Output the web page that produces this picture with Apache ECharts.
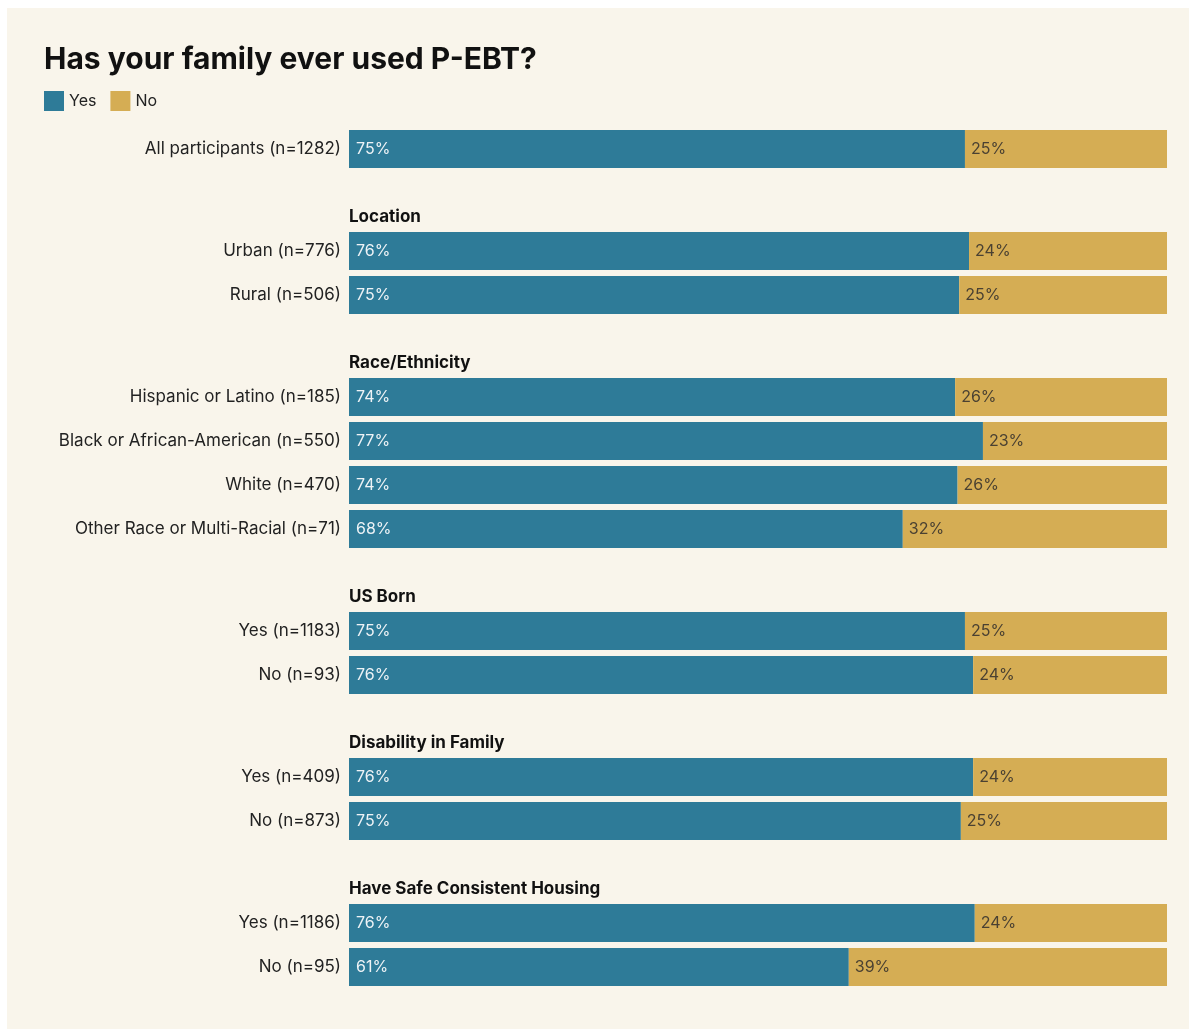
<!DOCTYPE html>
<html>
<head>
<meta charset="utf-8">
<script src="https://cdn.jsdelivr.net/npm/echarts@6/dist/echarts.min.js"></script>
<style>
html,body{margin:0;padding:0;background:#ffffff;}
#chart{width:1189px;height:1029px;}
</style>
</head>
<body>
<div id="chart"></div>
<script>
// ---- Data ----
var groupHeaders = ["", "Location", "Race/Ethnicity", "US Born", "Disability in Family", "Have Safe Consistent Housing"];
var catsAll = ["All participants (n=1282)"];
var catsLocation = ["Urban (n=776)", "Rural (n=506)"];
var catsRace = ["Hispanic or Latino (n=185)", "Black or African-American (n=550)", "White (n=470)", "Other Race or Multi-Racial (n=71)"];
var catsUSBorn = ["Yes (n=1183)", "No (n=93)"];
var catsDisability = ["Yes (n=409)", "No (n=873)"];
var catsHousing = ["Yes (n=1186)", "No (n=95)"];

// bar lengths as drawn (share of bar)
var yesAll = [75.3];
var noAll = [24.7];
var yesLocation = [75.8, 74.6];
var noLocation = [24.2, 25.4];
var yesRace = [74.1, 77.5, 74.4, 67.7];
var noRace = [25.9, 22.5, 25.6, 32.3];
var yesUSBorn = [75.3, 76.3];
var noUSBorn = [24.7, 23.7];
var yesDisability = [76.3, 74.8];
var noDisability = [23.7, 25.2];
var yesHousing = [76.5, 61.1];
var noHousing = [23.5, 38.9];

// printed labels
var yesLblAll = ["75%"]; var noLblAll = ["25%"];
var yesLblLocation = ["76%", "75%"]; var noLblLocation = ["24%", "25%"];
var yesLblRace = ["74%", "77%", "74%", "68%"]; var noLblRace = ["26%", "23%", "26%", "32%"];
var yesLblUSBorn = ["75%", "76%"]; var noLblUSBorn = ["25%", "24%"];
var yesLblDisability = ["76%", "75%"]; var noLblDisability = ["24%", "25%"];
var yesLblHousing = ["76%", "61%"]; var noLblHousing = ["24%", "39%"];

// ---- Layout ----
var FONT = "Inter, 'Noto Sans', sans-serif";
var YES_COLOR = "#2e7b98";
var NO_COLOR = "#d5ad54";
var ROW = 44;
var groups = [
  {cats: catsAll, yes: yesAll, no: noAll, yl: yesLblAll, nl: noLblAll, top: 127},
  {cats: catsLocation, yes: yesLocation, no: noLocation, yl: yesLblLocation, nl: noLblLocation, top: 229},
  {cats: catsRace, yes: yesRace, no: noRace, yl: yesLblRace, nl: noLblRace, top: 375},
  {cats: catsUSBorn, yes: yesUSBorn, no: noUSBorn, yl: yesLblUSBorn, nl: noLblUSBorn, top: 609},
  {cats: catsDisability, yes: yesDisability, no: noDisability, yl: yesLblDisability, nl: noLblDisability, top: 755},
  {cats: catsHousing, yes: yesHousing, no: noHousing, yl: yesLblHousing, nl: noLblHousing, top: 901}
];

var grids = [], xAxes = [], yAxes = [], series = [];
var titles = [{
  text: "Has your family ever used P-EBT?",
  left: 44, top: 44, padding: 0,
  textStyle: {fontFamily: FONT, fontSize: 30, fontWeight: 700, color: "#111111", lineHeight: 32}
}];

groups.forEach(function (g, i) {
  grids.push({left: 349, right: 22, top: g.top, height: ROW * g.cats.length, containLabel: false});
  xAxes.push({type: "value", gridIndex: i, min: 0, max: 100, show: false});
  yAxes.push({
    type: "category", gridIndex: i, data: g.cats, inverse: true,
    axisLine: {show: false}, axisTick: {show: false}, splitLine: {show: false},
    axisLabel: {fontFamily: FONT, fontSize: 17, color: "#222222", margin: 8, padding: [5, 0, 0, 0]}
  });
  series.push({
    name: "Yes", type: "bar", stack: "s" + i, xAxisIndex: i, yAxisIndex: i,
    data: g.yes, barWidth: 38, color: YES_COLOR,
    itemStyle: {color: YES_COLOR},
    label: {show: true, position: "insideLeft", distance: 7, fontFamily: FONT, fontSize: 16, color: "#eef3f6",
      padding: [4, 0, 0, 0],
      formatter: (function (arr) { return function (p) { return arr[p.dataIndex]; }; })(g.yl)}
  });
  series.push({
    name: "No", type: "bar", stack: "s" + i, xAxisIndex: i, yAxisIndex: i,
    data: g.no, barWidth: 38, color: NO_COLOR,
    itemStyle: {color: NO_COLOR},
    label: {show: true, position: "insideLeft", distance: 6, fontFamily: FONT, fontSize: 16, color: "#4a4132",
      padding: [4, 0, 0, 0],
      formatter: (function (arr) { return function (p) { return arr[p.dataIndex]; }; })(g.nl)}
  });
  if (groupHeaders[i]) {
    titles.push({
      text: groupHeaders[i], left: 349, top: g.top - 22, padding: 0,
      textStyle: {fontFamily: FONT, fontSize: 17, fontWeight: 700, color: "#111111", lineHeight: 20}
    });
  }
});

var chart = echarts.init(document.getElementById("chart"), null, {renderer: "canvas"});
chart.setOption({
  backgroundColor: "transparent",
  animation: false,
  graphic: [{type: "rect", z: -10, shape: {x: 7, y: 8, width: 1182, height: 1021}, style: {fill: "#f9f5eb"}}],
  title: titles,
  legend: {
    data: ["Yes", "No"], left: 44, top: 91, padding: 0, itemWidth: 20, itemHeight: 20, itemGap: 14, icon: "rect",
    textStyle: {fontFamily: FONT, fontSize: 16, color: "#222222"}
  },
  grid: grids,
  xAxis: xAxes,
  yAxis: yAxes,
  series: series
});
</script>
</body>
</html>
